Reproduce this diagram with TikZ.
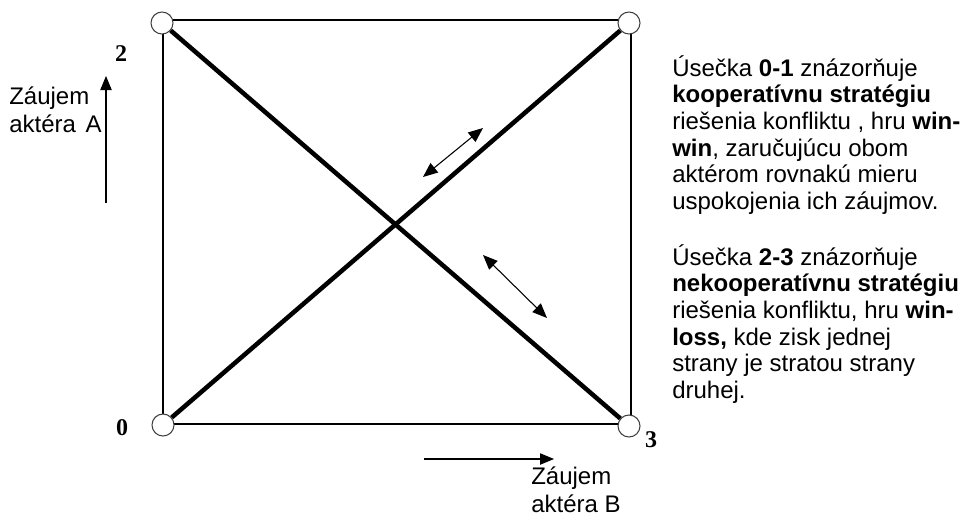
\documentclass[tikz,border=0pt]{standalone}
\usepackage{fontspec}
\setmainfont{Liberation Sans}
\newfontfamily\numfont{Liberation Serif}
\usetikzlibrary{arrows.meta}
\tikzset{
  corner/.style={circle, draw=black!75, line width=0.8pt, fill=white, minimum size=16.5pt, inner sep=0pt},
  heavy/.style={line width=3.4pt},
  frame/.style={line width=0.8pt},
  dblarrow/.style={line width=0.8pt, {Triangle[length=11pt,width=9pt]}-{Triangle[length=11pt,width=9pt]}},
  axisarrow/.style={line width=0.8pt, -{Triangle[length=10.5pt,width=8.5pt]}},
  txt/.style={inner sep=0pt, align=left, font=\fontsize{18}{20}\selectfont},
  lbl/.style={inner sep=0pt, align=left, font=\fontsize{18}{20.5}\selectfont},
  num/.style={inner sep=0pt, font=\numfont\bfseries\fontsize{18}{18}\selectfont}
}
\begin{document}
\begin{tikzpicture}[x=0.75pt,y=-0.75pt]
\useasboundingbox (0,0) rectangle (960,518);
% frame corners
\coordinate (f0) at (163,424);
\coordinate (f1) at (631,20);
\draw[frame] (f0) rectangle (f1);
% corner circles
\node[corner] (c2) at (162,23) {};
\node[corner] (c1) at (629,23) {};
\node[corner] (c0) at (163,425) {};
\node[corner] (c3) at (629,426) {};
% diagonals
\draw[heavy] (c2) -- (c3);
\draw[heavy] (c0) -- (c1);
% double arrows
\coordinate (a1s) at (423,177);
\coordinate (a1e) at (483,128);
\draw[dblarrow] (a1s) -- (a1e);
\coordinate (a2s) at (483,255);
\coordinate (a2e) at (547,318);
\draw[dblarrow] (a2s) -- (a2e);
% corner numbers
\node[num] (n2) at (121,54) {2};
\node[num] (n0) at (122,428) {0};
\node[num] (n3) at (651,440) {3};
% axis arrows
\coordinate (ayA) at (106,203);
\coordinate (ayB) at (106,76);
\draw[axisarrow] (ayA) -- (ayB);
\coordinate (axA) at (424,459);
\coordinate (axB) at (554,459);
\draw[axisarrow] (axA) -- (axB);
\node[lbl, anchor=north west] (la) at (9,87) {Záujem\\aktéra\hspace{0.4em}A};
\node[lbl, anchor=north west] (lb) at (531,467) {Záujem\\aktéra B};
% explanatory text
\node[txt, anchor=north west] (t1) at (672,55) {Úsečka \textbf{0-1} znázorňuje\\
\textbf{kooperatívnu stratégiu}\\
riešenia konfliktu , hru \textbf{win-}\\
\textbf{win}, zaručujúcu obom\\
aktérom rovnakú mieru\\
uspokojenia ich záujmov.};
\node[txt, anchor=north west] (t2) at (672,244) {Úsečka \textbf{2-3} znázorňuje\\
\textbf{nekooperatívnu stratégiu}\\
riešenia konfliktu, hru \textbf{win-}\\
\textbf{loss,} kde zisk jednej\\
strany je stratou strany\\
druhej.};
\end{tikzpicture}
\end{document}
